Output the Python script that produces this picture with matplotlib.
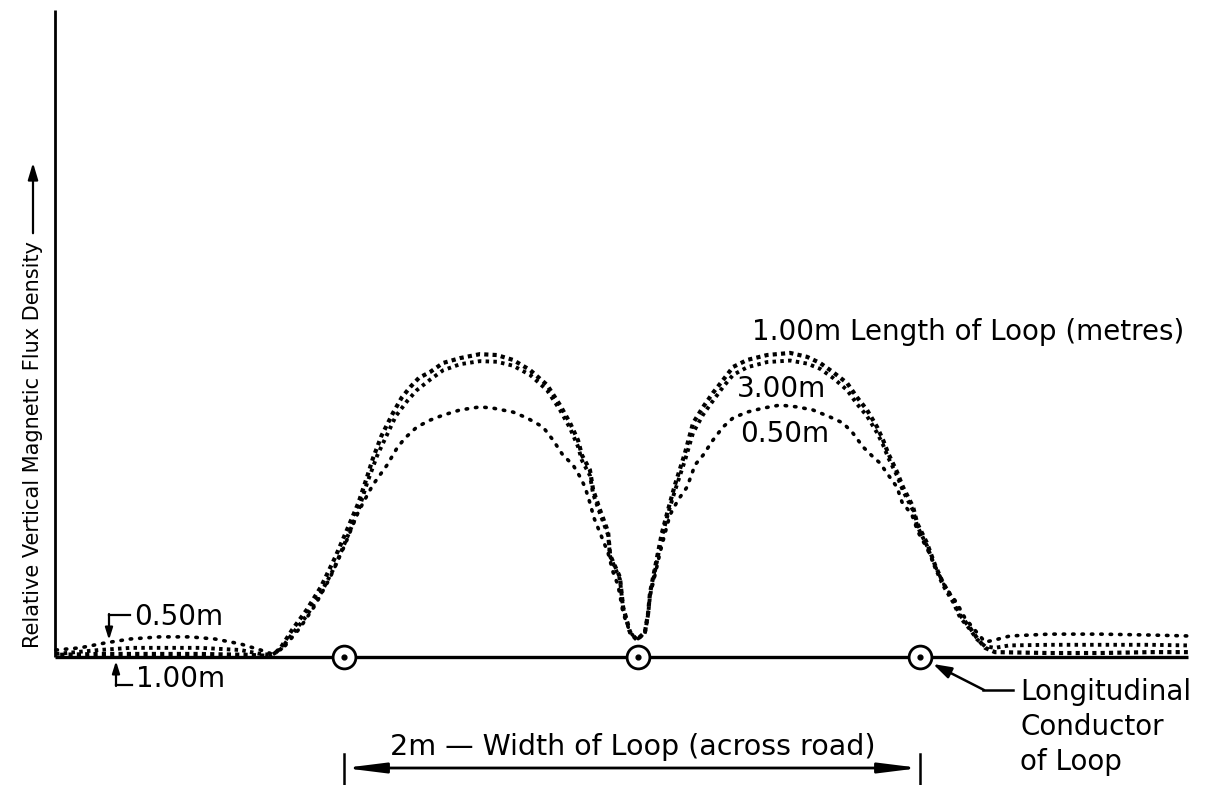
import matplotlib
matplotlib.use("Agg")
import matplotlib.pyplot as plt

plt.rcParams['font.family'] = ['DejaVu Sans']

# ---------------- data (x: metres across road, y: relative flux density) -------------
x_100 = [-2.00, -1.85, -1.67, -1.50, -1.33, -1.25, -1.22, -1.18, -1.13, -1.08, -1.03,
         -0.99, -0.95, -0.92, -0.90, -0.87, -0.83, -0.80, -0.77, -0.74, -0.70, -0.656,
         -0.597, -0.528, -0.469, -0.413, -0.354, -0.295, -0.25, -0.215, -0.1875, -0.174,
         -0.146, -0.135, -0.111, -0.083, -0.076, -0.042, -0.031, -0.007, 0.017, 0.045,
         0.056, 0.0625, 0.09, 0.104, 0.125, 0.149, 0.184, 0.212, 0.247, 0.281, 0.316,
         0.351, 0.40, 0.469, 0.549, 0.608, 0.653, 0.698, 0.747, 0.781, 0.816, 0.851,
         0.872, 0.889, 0.92, 0.941, 0.976, 0.99, 1.024, 1.052, 1.08, 1.115, 1.139, 1.174,
         1.198, 1.226, 1.26, 1.45, 1.625, 1.80, 1.93]
y_100 = [0.007, 0.010, 0.010, 0.010, 0.007, 0.003, 0.030, 0.089, 0.154, 0.230, 0.328,
         0.416, 0.505, 0.590, 0.650, 0.725, 0.800, 0.850, 0.885, 0.915, 0.935, 0.964,
         0.980, 0.993, 0.990, 0.974, 0.941, 0.892, 0.826, 0.767, 0.711, 0.662,
         0.613, 0.548, 0.482, 0.410, 0.334, 0.262, 0.164, 0.082, 0.056, 0.082,
         0.144, 0.210, 0.341, 0.407, 0.482, 0.564, 0.669, 0.767, 0.820, 0.866, 0.908,
         0.951, 0.974, 0.990, 0.997, 0.984, 0.964, 0.934, 0.898, 0.852, 0.810, 0.754,
         0.711, 0.669, 0.607, 0.557, 0.492, 0.439, 0.374, 0.302, 0.243, 0.187, 0.138, 0.095,
         0.062, 0.030, 0.016, 0.013, 0.013, 0.016, 0.016]

x_300 = [-2.00, -1.85, -1.74, -1.50, -1.36, -1.29, -1.25, -1.22, -1.18, -1.13, -1.08,
         -1.03, -0.99, -0.95, -0.92, -0.885, -0.85, -0.82, -0.78, -0.747, -0.70, -0.656,
         -0.597, -0.528, -0.469, -0.413, -0.354, -0.295, -0.25, -0.215, -0.1875, -0.174,
         -0.146, -0.135, -0.111, -0.083, -0.076, -0.042, -0.031, -0.007, 0.017, 0.045,
         0.056, 0.0625, 0.09, 0.104, 0.125, 0.149, 0.184, 0.212, 0.247, 0.281, 0.316,
         0.351, 0.40, 0.469, 0.549, 0.608, 0.653, 0.698, 0.747, 0.781, 0.816, 0.851,
         0.872, 0.889, 0.92, 0.941, 0.976, 0.99, 1.024, 1.052, 1.08, 1.115, 1.139, 1.174,
         1.198, 1.226, 1.26, 1.31, 1.45, 1.625, 1.80, 1.93]
y_300 = [0.010, 0.023, 0.030, 0.030, 0.023, 0.010, 0.007, 0.025, 0.075, 0.135, 0.210,
         0.300, 0.390, 0.480, 0.570, 0.660, 0.730, 0.790, 0.840, 0.875, 0.910, 0.940,
         0.960, 0.970, 0.968, 0.955, 0.925, 0.875, 0.810, 0.750, 0.690, 0.645,
         0.595, 0.535, 0.470, 0.400, 0.330, 0.255, 0.160, 0.080, 0.056, 0.080,
         0.140, 0.200, 0.330, 0.395, 0.470, 0.545, 0.645, 0.735, 0.795, 0.840, 0.885,
         0.925, 0.950, 0.967, 0.972, 0.962, 0.945, 0.915, 0.875, 0.830, 0.790, 0.735,
         0.695, 0.655, 0.595, 0.545, 0.480, 0.430, 0.365, 0.295, 0.235, 0.180, 0.130, 0.090,
         0.058, 0.035, 0.030, 0.038, 0.040, 0.040, 0.040, 0.038]

x_050 = [-2.00, -1.917, -1.83, -1.743, -1.64, -1.535, -1.448, -1.36, -1.29, -1.25,
         -1.205, -1.153, -1.10, -1.049, -0.997, -0.955, -0.934, -0.90, -0.85, -0.816,
         -0.788, -0.747, -0.70, -0.656, -0.597, -0.528, -0.483, -0.413, -0.365, -0.309,
         -0.274, -0.24, -0.205, -0.18, -0.163, -0.146, -0.132, -0.111, -0.083, -0.066,
         -0.049, -0.042, -0.031, -0.007, 0.017, 0.045, 0.056, 0.0625, 0.08, 0.097, 0.115,
         0.132, 0.16, 0.191, 0.219, 0.247, 0.281, 0.316, 0.351, 0.40, 0.455, 0.514, 0.573,
         0.628, 0.6875, 0.733, 0.767, 0.802, 0.837, 0.861, 0.885, 0.92, 0.9375, 0.972,
         0.993, 1.024, 1.059, 1.087, 1.128, 1.156, 1.19, 1.226, 1.26, 1.3125, 1.45, 1.625,
         1.80, 1.93]
y_050 = [0.023, 0.030, 0.046, 0.059, 0.066, 0.066, 0.059, 0.043, 0.023, 0.010,
         0.036, 0.095, 0.170, 0.259, 0.367, 0.466, 0.505, 0.564, 0.630, 0.685,
         0.718, 0.754, 0.777, 0.793, 0.810, 0.820, 0.816, 0.803, 0.784, 0.754,
         0.711, 0.662, 0.630, 0.590, 0.557, 0.505, 0.456, 0.407, 0.341, 0.279,
         0.236, 0.203, 0.144, 0.082, 0.056, 0.082, 0.144, 0.203, 0.269, 0.341, 0.407,
         0.466, 0.515, 0.557, 0.630, 0.662, 0.711, 0.754, 0.784, 0.803, 0.816, 0.826, 0.820,
         0.810, 0.787, 0.767, 0.734, 0.689, 0.656, 0.636, 0.603, 0.557, 0.508, 0.466,
         0.410, 0.357, 0.285, 0.230, 0.177, 0.128, 0.089, 0.049, 0.056, 0.069, 0.075, 0.075,
         0.072, 0.069]

conductor_x = [-1.0, 0.02, 1.0]

# ---------------- figure ----------------
W, H = 1210, 785
fig = plt.figure(figsize=(W / 100, H / 100), dpi=100)
ax = fig.add_axes([0, 0, 1, 1])
X0, SX = 632.0, 288.0   # pixel of x=0, pixels per metre
Y0, SY = 657.0, 305.0   # pixel of y=0, pixels per unit
ax.set_xlim(-X0 / SX, (W - X0) / SX)
ax.set_ylim(-(H - Y0) / SY, Y0 / SY)
ax.axis('off')

def P(px, py):
    return ((px - X0) / SX, (Y0 - py) / SY)

FS = 20

# curves (dot-matrix style)
ax.plot(x_050, y_050, color='black', lw=2.6, linestyle=(0, (0.4, 2.2)),
        dash_capstyle='round')
ax.plot(x_300, y_300, color='black', lw=2.8, linestyle=(0, (0.9, 1.1)))
ax.plot(x_100, y_100, color='black', lw=3.0, linestyle=(1.0, (1.0, 1.0)))

# axes lines
ax.plot([P(55, 0)[0]] * 2, [0, P(0, 10)[1]], color='black', lw=2.0, solid_capstyle='butt')
ax.plot([P(55, 0)[0], P(1188, 0)[0]], [0, 0], color='black', lw=2.4, solid_capstyle='butt')

# conductor markers
ax.scatter(conductor_x, [0] * len(conductor_x), s=270, facecolor='white',
           edgecolor='black', linewidths=2.0, zorder=5)
ax.scatter(conductor_x, [0] * len(conductor_x), s=12, color='black', zorder=6)

# y label with arrow
ax.text(*P(33, 445), 'Relative Vertical Magnetic Flux Density', rotation=90,
        ha='center', va='center', fontsize=15)
ax.annotate('', xy=P(33, 160), xytext=P(33, 236),
            arrowprops=dict(arrowstyle='-|>,head_length=1.0,head_width=0.3',
                            color='black', lw=1.6))

# curve labels
ax.text(*P(752, 340), '1.00m Length of Loop (metres)', ha='left', va='baseline', fontsize=FS)
ax.text(*P(737, 397), '3.00m', ha='left', va='baseline', fontsize=FS)
ax.text(*P(740, 442), '0.50m', ha='left', va='baseline', fontsize=FS)

# left labels
ax.text(*P(134, 625), '0.50m', ha='left', va='baseline', fontsize=FS)
ax.plot([P(109, 0)[0], P(130, 0)[0]], [P(0, 615)[1]] * 2, color='black', lw=1.6)
ax.annotate('', xy=P(109, 640), xytext=P(109, 614),
            arrowprops=dict(arrowstyle='-|>,head_length=0.7,head_width=0.22',
                            color='black', lw=1.6, shrinkA=0, shrinkB=0))
ax.text(*P(136, 687), '1.00m', ha='left', va='baseline', fontsize=FS)
ax.plot([P(116, 0)[0], P(132, 0)[0]], [P(0, 685)[1]] * 2, color='black', lw=1.6)
ax.annotate('', xy=P(116, 661), xytext=P(116, 686),
            arrowprops=dict(arrowstyle='-|>,head_length=0.7,head_width=0.22',
                            color='black', lw=1.6, shrinkA=0, shrinkB=0))

# longitudinal conductor label
ax.text(*P(1020, 700), 'Longitudinal', ha='left', va='baseline', fontsize=FS)
ax.text(*P(1020, 735), 'Conductor', ha='left', va='baseline', fontsize=FS)
ax.text(*P(1020, 770), 'of Loop', ha='left', va='baseline', fontsize=FS)
ax.plot([P(983, 0)[0], P(1013, 0)[0]], [P(0, 690)[1]] * 2, color='black', lw=1.8)
ax.annotate('', xy=P(933, 664), xytext=P(984, 690),
            arrowprops=dict(arrowstyle='-|>,head_length=1.1,head_width=0.35',
                            color='black', lw=1.8, shrinkA=0, shrinkB=0))

# width arrow
ya = P(0, 768)[1]
ax.annotate('', xy=(conductor_x[0], ya), xytext=(conductor_x[2], ya),
            arrowprops=dict(arrowstyle='<|-|>,head_length=2.4,head_width=0.3',
                            color='black', lw=2.0, shrinkA=0, shrinkB=0))
for cx in (conductor_x[0], conductor_x[2]):
    ax.plot([cx, cx], [P(0, 754)[1], P(0, 786)[1]], color='black', lw=1.8)
ax.text(*P(633, 755), '2m \u2014 Width of Loop (across road)', ha='center', va='baseline',
        fontsize=20.5)

fig.savefig('out.png', dpi=100)
